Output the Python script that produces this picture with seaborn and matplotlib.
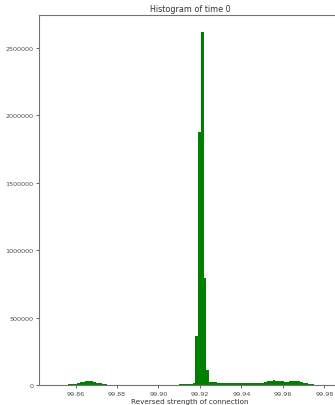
import numpy as np
import pandas as pd
import matplotlib
matplotlib.use("Agg")
import matplotlib.pyplot as plt
import seaborn as sns

# Histogram data: 100 bins
bin_start = 99.8513
bin_width = 0.00133
counts = [
    0, 500, 1000, 2000, 4000, 7000, 11000, 16000, 21000, 25000,
    28000, 28000, 26000, 22000, 17000, 12000, 8000, 5000, 3000, 2000,
    1500, 1000, 500, 0, 0, 0, 0, 0, 0, 0,
    0, 0, 0, 0, 0, 2000, 2500, 2500, 2500, 3000,
    3000, 3000, 3500, 3500, 4000, 4000, 5000, 6000, 8000, 15000,
    360000, 1880000, 2620000, 794000, 110000, 19000, 19000, 19000, 18000, 18000,
    18000, 18000, 17000, 17000, 16000, 13000, 13000, 12000, 12000, 12000,
    12000, 12000, 13000, 14000, 17000, 22000, 28000, 32000, 34000, 33000,
    30000, 26000, 24000, 25000, 28000, 30000, 31000, 29000, 24000, 18000,
    12000, 7000, 4000, 2000, 1000, 500, 0, 0, 0, 0,
]
x_ticks = [99.86, 99.88, 99.90, 99.92, 99.94, 99.96, 99.98]
y_ticks = [0, 500000, 1000000, 1500000, 2000000, 2500000]

n = len(counts)
centers = [bin_start + (i + 0.5) * bin_width for i in range(n)]
df = pd.DataFrame({"value": centers, "count": counts})

sns.set_style("ticks")
plt.rcParams["font.family"] = ["DejaVu Sans"]

fig = plt.figure(figsize=(3.35, 4.06), dpi=100)
ax = fig.add_axes([39 / 335, 20 / 406, (341 - 39) / 335, (386 - 16) / 406])

sns.histplot(data=df, x="value", weights="count", bins=n,
             binrange=(bin_start, bin_start + n * bin_width),
             color="green", alpha=1.0, linewidth=0, ax=ax)

ax.set_xlim(99.8424, 99.9880)
ax.set_ylim(0, 2745000)
ax.set_xticks(x_ticks)
ax.set_xticklabels([f"{t:.2f}" for t in x_ticks])
ax.set_yticks(y_ticks)
ax.set_yticklabels([str(t) for t in y_ticks])
ax.set_title("Histogram of time 0", fontsize=5.8, color="0.2", pad=3)
ax.set_xlabel("Reversed strength of connection", fontsize=5.2, color="0.2", labelpad=1.5)
ax.set_ylabel("")
ax.tick_params(axis="both", labelsize=4.6, colors="0.3", length=2, width=0.6, pad=2)
for sp in ax.spines.values():
    sp.set_color("0.45")
    sp.set_linewidth(0.8)

fig.savefig("out.png", dpi=100)
